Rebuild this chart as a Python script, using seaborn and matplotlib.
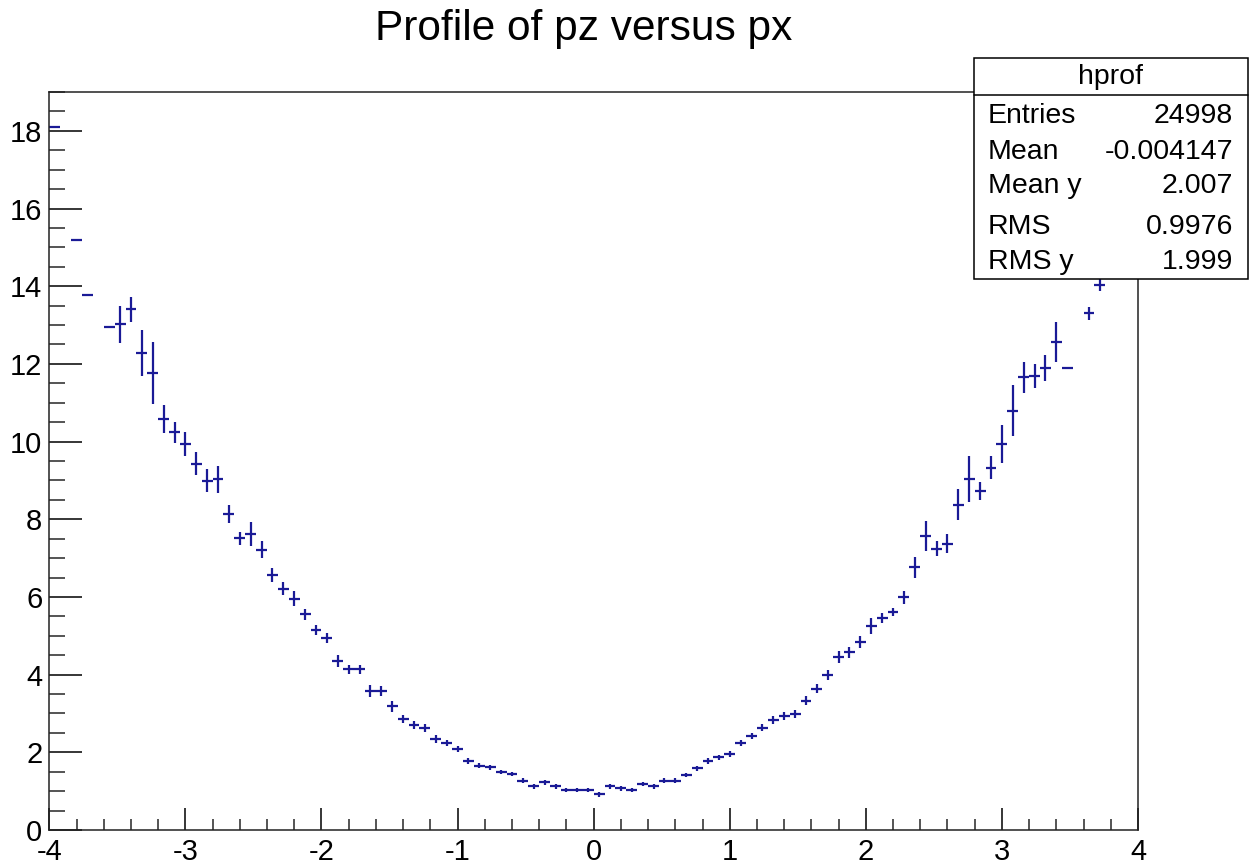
import numpy as np
import pandas as pd
import seaborn as sns
import matplotlib.pyplot as plt
from matplotlib.patches import Rectangle
from matplotlib.lines import Line2D
from matplotlib.ticker import MultipleLocator

# profile bins: 100 bins from -4 to 4
bin_edges = np.linspace(-4, 4, 101)
nan = np.nan
pz_mean = [18.10, nan, 15.18, 13.78, nan, 12.96, 13.02, 13.41, 12.28, 11.76,
           10.58, 10.24, 9.93, 9.43, 8.99, 9.03, 8.13, 7.51, 7.62, 7.21,
           6.56, 6.21, 5.96, 5.55, 5.15, 4.94, 4.35, 4.14, 4.14, 3.58,
           3.58, 3.18, 2.86, 2.70, 2.62, 2.34, 2.23, 2.08, 1.78, 1.66,
           1.61, 1.49, 1.44, 1.27, 1.12, 1.23, 1.12, 1.03, 1.03, 1.03,
           0.92, 1.12, 1.07, 1.03, 1.18, 1.12, 1.27, 1.27, 1.42, 1.59,
           1.78, 1.87, 1.95, 2.23, 2.42, 2.63, 2.83, 2.94, 2.99, 3.33,
           3.64, 3.99, 4.45, 4.57, 4.84, 5.25, 5.46, 5.61, 5.99, 6.76,
           7.57, 7.24, 7.37, 8.37, 9.03, 8.73, 9.33, 9.94, 10.80, 11.65,
           11.69, 11.89, 12.56, 11.89, nan, 13.30, 14.03, nan, nan, nan]
pz_err = [0, 0, 0, 0, 0, 0, 0.47, 0.32, 0.58, 0.80,
          0.36, 0.27, 0.31, 0.29, 0.30, 0.35, 0.23, 0.17, 0.30, 0.22,
          0.18, 0.17, 0.19, 0.15, 0.14, 0.13, 0.15, 0.12, 0.12, 0.15,
          0.12, 0.13, 0.10, 0.10, 0.10, 0.10, 0.08, 0.08, 0.07, 0.07,
          0.06, 0.06, 0.06, 0.06, 0.06, 0.06, 0.06, 0.06, 0.06, 0.06,
          0.06, 0.06, 0.06, 0.06, 0.06, 0.06, 0.06, 0.06, 0.06, 0.07,
          0.07, 0.07, 0.08, 0.08, 0.09, 0.09, 0.10, 0.10, 0.10, 0.11,
          0.12, 0.12, 0.15, 0.15, 0.15, 0.20, 0.12, 0.10, 0.17, 0.28,
          0.39, 0.19, 0.24, 0.40, 0.59, 0.23, 0.29, 0.48, 0.65, 0.41,
          0.32, 0.34, 0.51, 0, 0, 0.17, 0.15, 0, 0, 0]

stat_names = ['Entries', 'Mean', 'Mean y', 'RMS', 'RMS y']
stat_values = ['24998', '-0.004147', '2.007', '0.9976', '1.999']

df = pd.DataFrame({'px': 0.5 * (bin_edges[:-1] + bin_edges[1:]),
                   'pz': pz_mean, 'err': pz_err})
half_width = 0.5 * (bin_edges[1] - bin_edges[0])

sns.set_style("ticks")
plt.rcParams['font.family'] = ['Liberation Sans', 'DejaVu Sans']
plt.rcParams['axes.unicode_minus'] = False
plt.rcParams['text.color'] = 'black'

W, H = 1251, 865
fig = plt.figure(figsize=(W / 100, H / 100), dpi=100)
ax = fig.add_axes([49.3 / W, (H - 830) / H, (1138 - 49.3) / W, (830 - 92) / H])

col = '#1a1a96'
ax.errorbar(df['px'], df['pz'], xerr=half_width, yerr=df['err'],
            fmt='none', ecolor=col, elinewidth=1.6, capsize=0)

ax.set_xlim(-4, 4)
ax.set_ylim(0, 19.0)
ax.xaxis.set_major_locator(MultipleLocator(1))
ax.xaxis.set_minor_locator(MultipleLocator(0.2))
ax.yaxis.set_major_locator(MultipleLocator(2))
ax.yaxis.set_minor_locator(MultipleLocator(0.5))
ax.tick_params(axis='x', which='major', direction='in', length=16, width=1.1,
               labelsize=21, pad=6, colors='black')
ax.tick_params(axis='x', which='minor', direction='in', length=8, width=1.1)
ax.tick_params(axis='y', which='major', direction='in', length=24, width=1.1,
               labelsize=21, pad=5, colors='black')
ax.tick_params(axis='y', which='minor', direction='in', length=11.5, width=1.1)
for s in ax.spines.values():
    s.set_linewidth(1.1)
    s.set_color('#222222')
    s.set_visible(True)

fig.text(584 / W, 1 - 40 / H, 'Profile of pz versus px', ha='center',
         va='baseline', fontsize=30.5)

# stats box
x0, x1, y0, y1, ysep = 974, 1248, 58, 279, 95
fig.patches.append(Rectangle((x0 / W, 1 - y1 / H), (x1 - x0) / W, (y1 - y0) / H,
                             transform=fig.transFigure, facecolor='white',
                             edgecolor='black', linewidth=1.1, zorder=5))
fig.lines.append(Line2D([x0 / W, x1 / W], [1 - ysep / H, 1 - ysep / H],
                        transform=fig.transFigure, color='black',
                        linewidth=1.1, zorder=6))
fig.text((x0 + x1) / 2 / W, 1 - 77 / H, 'hprof', ha='center', va='center',
         fontsize=20.5, zorder=7)
row_y = [116, 152, 186, 227, 262]
for name, val, yy in zip(stat_names, stat_values, row_y):
    fig.text(988 / W, 1 - yy / H, name, ha='left', va='center',
             fontsize=20.5, zorder=7)
    fig.text(1233 / W, 1 - yy / H, val, ha='right', va='center',
             fontsize=20.5, zorder=7)

fig.savefig('out.png', dpi=100)
